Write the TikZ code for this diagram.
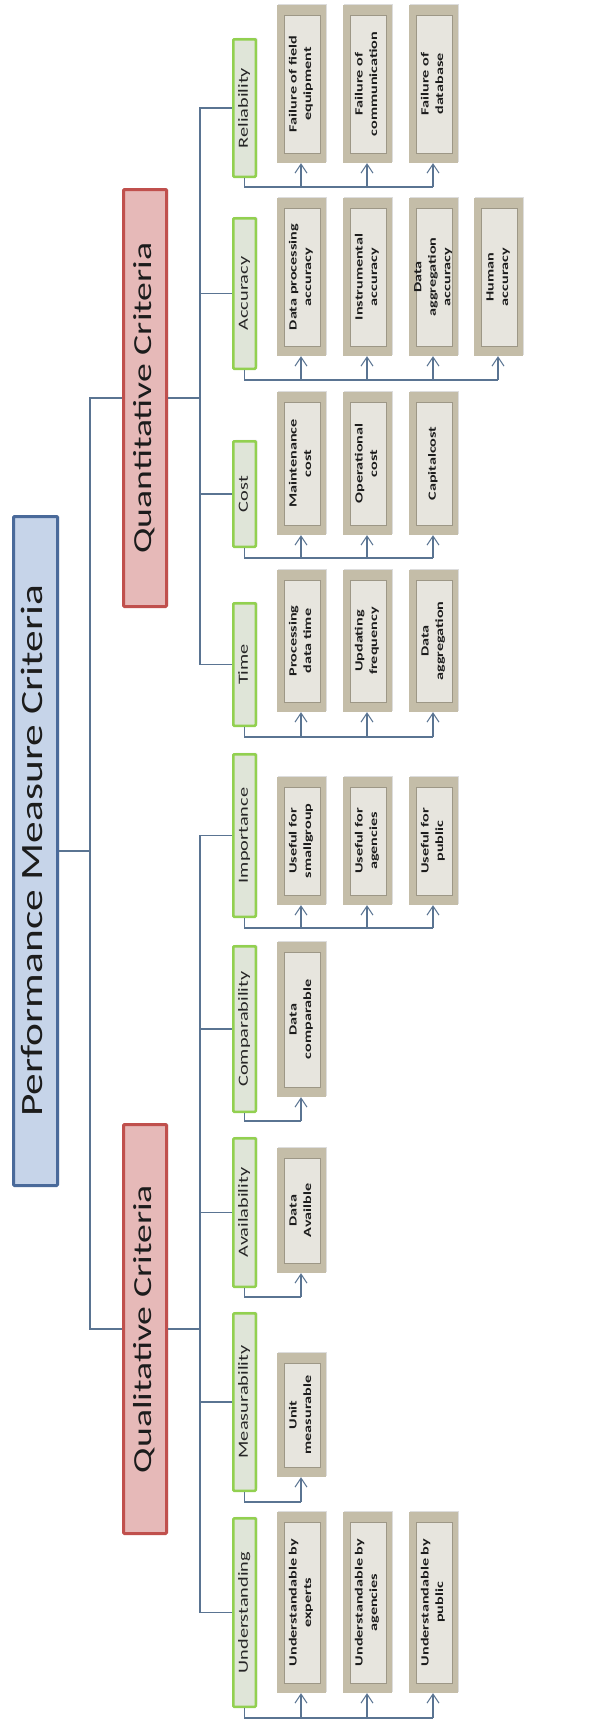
\documentclass[tikz,border=0pt]{standalone}
\usepackage{graphicx}
\usepackage{fontspec}
\setmainfont{Carlito}
\usetikzlibrary{arrows.meta,shadows}

\definecolor{rootedge}{HTML}{4A6A9A}
\definecolor{rootfill}{HTML}{C6D4E9}
\definecolor{catedge}{HTML}{C0504D}
\definecolor{catfill}{HTML}{E6B9B8}
\definecolor{critedge}{HTML}{92D050}
\definecolor{critfill}{HTML}{DFE5D8}
\definecolor{leafout}{HTML}{C4BDA8}
\definecolor{leafin}{HTML}{E7E5DE}
\definecolor{linkcol}{HTML}{5A7492}
\definecolor{inktext}{HTML}{1C1C1C}

% rotated, lengthwise-stretched label (reads bottom to top)
\newcommand{\vtxt}[2]{\rotatebox{90}{\scalebox{#1}[1]{\begin{tabular}{@{}c@{}}#2\end{tabular}}}}

\tikzset{
  softshadow/.style={drop shadow={shadow xshift=1.5pt,shadow yshift=1.5pt,opacity=.22,fill=black!60}},
  rootbox/.style={draw=rootedge, fill=rootfill, line width=3pt, inner sep=0pt,
    minimum width=44pt, rounded corners=1pt, softshadow, text=inktext,
    font=\fontsize{31}{36}\selectfont},
  catbox/.style={draw=catedge, fill=catfill, line width=3pt, inner sep=0pt,
    minimum width=43pt, rounded corners=1pt, softshadow, text=inktext,
    font=\fontsize{26}{30}\selectfont},
  critbox/.style={draw=critedge, fill=critfill, line width=2.5pt, inner sep=0pt,
    minimum width=22.5pt, rounded corners=1pt, softshadow, text=black!85,
    font=\fontsize{14}{17}\selectfont},
  leafbox/.style={fill=leafout, inner sep=0pt, minimum width=49pt, softshadow,
    text=inktext, font=\bfseries\fontsize{11}{14.5}\selectfont,
    path picture={
      \fill[leafin] ([shift={(8pt,-10pt)}]path picture bounding box.north west)
        rectangle ([shift={(-5pt,10pt)}]path picture bounding box.south east);
      \draw[leafout!80!black, line width=.5pt]
        ([shift={(8pt,-10pt)}]path picture bounding box.north west)
        rectangle ([shift={(-5pt,10pt)}]path picture bounding box.south east);
    }},
  link/.style={draw=linkcol, line width=1.1pt},
  arrowlink/.style={link, -{Straight Barb[length=9pt,width=12pt,line width=1pt]}},
}

\begin{document}
\begin{tikzpicture}[x=1pt,y=-1pt]
\useasboundingbox[fill=white] (0,0) rectangle (598,1735);

% root and the two main categories
\node[rootbox, minimum height=669pt] (root) at (35.5,851) {\vtxt{1.4}{Performance Measure Criteria}};
\node[catbox, minimum height=417pt] (quant) at (145,398) {\vtxt{1.45}{Quantitative Criteria}};
\node[catbox, minimum height=409pt] (qual) at (145,1329) {\vtxt{1.45}{Qualitative Criteria}};

% criteria
\node[critbox, minimum height=137.5pt] (rel)   at (244.5,108)    {\vtxt{1.45}{Reliability}};
\node[critbox, minimum height=150.5pt] (acc)   at (244.5,293.5)  {\vtxt{1.45}{Accuracy}};
\node[critbox, minimum height=105.5pt] (cost)  at (244.5,494)    {\vtxt{1.45}{Cost}};
\node[critbox, minimum height=122.5pt] (time)  at (244.5,664.5)  {\vtxt{1.45}{Time}};
\node[critbox, minimum height=162.5pt] (imp)   at (244.5,835.5)  {\vtxt{1.45}{Importance}};
\node[critbox, minimum height=165.5pt] (comp)  at (244.5,1029)   {\vtxt{1.45}{Comparability}};
\node[critbox, minimum height=148.5pt] (avail) at (244.5,1212.5) {\vtxt{1.45}{Availability}};
\node[critbox, minimum height=177.5pt] (meas)  at (244.5,1402)   {\vtxt{1.45}{Measurability}};
\node[critbox, minimum height=188.5pt] (und)   at (244.5,1612.5) {\vtxt{1.45}{Understanding}};

% measures
\node[leafbox, minimum height=158pt] (r1) at (301,84) {\vtxt{1.47}{Failure of field\\equipment}};
\node[leafbox, minimum height=158pt] (r2) at (367,84) {\vtxt{1.47}{Failure of\\communication}};
\node[leafbox, minimum height=158pt] (r3) at (433,84) {\vtxt{1.47}{Failure of\\database}};

\node[leafbox, minimum height=158pt] (a1) at (301,277) {\vtxt{1.47}{Data processing\\accuracy}};
\node[leafbox, minimum height=158pt] (a2) at (367,277) {\vtxt{1.47}{Instrumental\\accuracy}};
\node[leafbox, minimum height=158pt] (a3) at (433,277) {\vtxt{1.47}{Data\\aggregation\\accuracy}};
\node[leafbox, minimum height=158pt] (a4) at (498,277) {\vtxt{1.47}{Human\\accuracy}};

\node[leafbox, minimum height=143pt] (c1) at (301,463.5) {\vtxt{1.47}{Maintenance\\cost}};
\node[leafbox, minimum height=143pt] (c2) at (367,463.5) {\vtxt{1.47}{Operational\\cost}};
\node[leafbox, minimum height=143pt] (c3) at (433,463.5) {\vtxt{1.47}{Capitalcost}};

\node[leafbox, minimum height=142pt] (t1) at (301,641) {\vtxt{1.47}{Processing\\data time}};
\node[leafbox, minimum height=142pt] (t2) at (367,641) {\vtxt{1.47}{Updating\\frequency}};
\node[leafbox, minimum height=142pt] (t3) at (433,641) {\vtxt{1.47}{Data\\aggregation}};

\node[leafbox, minimum height=128pt] (i1) at (301,841) {\vtxt{1.47}{Useful for\\smallgroup}};
\node[leafbox, minimum height=128pt] (i2) at (367,841) {\vtxt{1.47}{Useful for\\agencies}};
\node[leafbox, minimum height=128pt] (i3) at (433,841) {\vtxt{1.47}{Useful for\\public}};

\node[leafbox, minimum height=155pt] (p1) at (301,1019.5) {\vtxt{1.47}{Data\\comparable}};
\node[leafbox, minimum height=125pt] (v1) at (301,1210.5) {\vtxt{1.47}{Data\\Availble}};
\node[leafbox, minimum height=124pt] (m1) at (301,1415)   {\vtxt{1.47}{Unit\\measurable}};

\node[leafbox, minimum height=181pt] (u1) at (301,1602.5) {\vtxt{1.47}{Understandable by\\experts}};
\node[leafbox, minimum height=181pt] (u2) at (367,1602.5) {\vtxt{1.47}{Understandable by\\agencies}};
\node[leafbox, minimum height=181pt] (u3) at (433,1602.5) {\vtxt{1.47}{Understandable by\\public}};

% tree connectors
\coordinate (rootbus) at (90,851);
\draw[link] (root.east) -- (rootbus);
\draw[link] (rootbus) |- (quant.west);
\draw[link] (rootbus) |- (qual.west);

\coordinate (qnbus) at (200,398);
\draw[link] (quant.east) -- (qnbus);
\foreach \g in {rel,acc,cost,time} \draw[link] (qnbus) |- (\g.west);

\coordinate (qlbus) at (200,1329);
\draw[link] (qual.east) -- (qlbus);
\foreach \g in {imp,comp,avail,meas,und} \draw[link] (qlbus) |- (\g.west);

% buses from each criterion to its measures
\foreach \g/\by/\last/\kids in {
  rel/187/r3/{r1,r2,r3},
  acc/380/a4/{a1,a2,a3,a4},
  cost/558/c3/{c1,c2,c3},
  time/737/t3/{t1,t2,t3},
  imp/928/i3/{i1,i2,i3},
  comp/1121/p1/{p1},
  avail/1297/v1/{v1},
  meas/1502/m1/{m1},
  und/1718/u3/{u1,u2,u3}}{
  \coordinate (\g bus) at (244.5,\by);
  \draw[link] (\g.south) -- (\g bus) -- (\g bus -| \last.south);
  \foreach \k in \kids \draw[arrowlink] (\g bus -| \k.south) -- (\k.south);
}
\end{tikzpicture}
\end{document}
